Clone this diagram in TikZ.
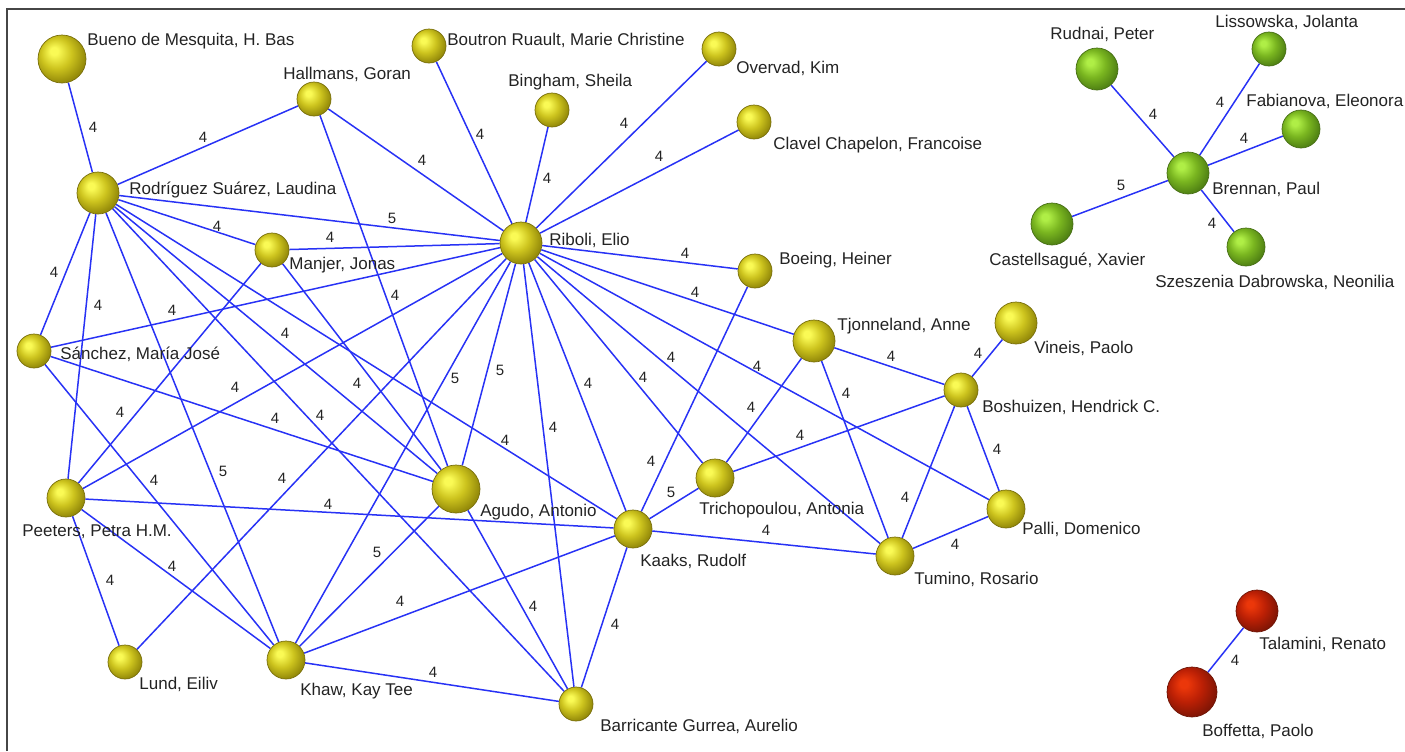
\documentclass[tikz,border=0pt]{standalone}
\usepackage{fontspec}
\setmainfont{Liberation Sans}
\usetikzlibrary{backgrounds}
\definecolor{yhi}{RGB}{250,250,85}
\definecolor{ymid}{RGB}{205,196,30}
\definecolor{ydk}{RGB}{150,140,10}
\definecolor{ydk2}{RGB}{105,96,0}
\definecolor{yout}{RGB}{120,110,10}
\definecolor{ghi}{RGB}{175,238,70}
\definecolor{gmid}{RGB}{122,182,32}
\definecolor{gdk}{RGB}{82,132,20}
\definecolor{gdk2}{RGB}{55,95,10}
\definecolor{gout}{RGB}{70,110,20}
\definecolor{rhi}{RGB}{235,55,10}
\definecolor{rmid}{RGB}{188,32,5}
\definecolor{rdk}{RGB}{132,22,5}
\definecolor{rdk2}{RGB}{90,12,0}
\definecolor{rout}{RGB}{110,20,5}
\definecolor{eblue}{RGB}{40,50,245}
\definecolor{txt}{RGB}{35,35,35}
\definecolor{framec}{RGB}{70,70,70}
\pgfdeclareradialshading{ysph}{\pgfpoint{-9bp}{9bp}}{color(0bp)=(yhi); color(4bp)=(yhi); color(16bp)=(ymid); color(28bp)=(ydk); color(50bp)=(ydk2)}
\pgfdeclareradialshading{gsph}{\pgfpoint{-9bp}{9bp}}{color(0bp)=(ghi); color(4bp)=(ghi); color(16bp)=(gmid); color(28bp)=(gdk); color(50bp)=(gdk2)}
\pgfdeclareradialshading{rsph}{\pgfpoint{-9bp}{9bp}}{color(0bp)=(rhi); color(4bp)=(rhi); color(16bp)=(rmid); color(28bp)=(rdk); color(50bp)=(rdk2)}
\begin{document}
\begin{tikzpicture}[x=0.5pt,y=-0.5pt,
  sph/.style={circle, inner sep=0pt, line width=0.35pt},
  ys/.style={sph, draw=yout, shading=ysph, minimum size=#1pt},
  gs/.style={sph, draw=gout, shading=gsph, minimum size=#1pt},
  rs/.style={sph, draw=rout, shading=rsph, minimum size=#1pt},
  lab/.style={anchor=base west, yshift=-3pt, inner sep=0pt, text=txt, font=\fontsize{8.5}{10}\selectfont},
  el/.style={inner sep=0pt, text=txt, font=\fontsize{7.5}{9}\selectfont},
  edge/.style={draw=eblue, line width=0.75pt},
  frame/.style={draw=framec, line width=1pt}]
\useasboundingbox (0,0) rectangle (1405,751);
\draw[frame] (7,751) |- (1405,9);
% spheres
\node[ys=24] (bue) at (62,59) {};
\node[ys=17] (bou) at (429,46) {};
\node[ys=17] (ove) at (719,49) {};
\node[ys=17] (hal) at (314,99) {};
\node[ys=17] (bin) at (552,110) {};
\node[ys=17] (cla) at (754,122) {};
\node[ys=21] (rod) at (98,193) {};
\node[ys=17] (man) at (272,250) {};
\node[ys=21] (rib) at (521,243) {};
\node[ys=17] (boe) at (755,271) {};
\node[ys=17] (san) at (34,351) {};
\node[ys=21] (tjo) at (814,341) {};
\node[ys=21] (vin) at (1016,323) {};
\node[ys=17] (bos) at (961,390) {};
\node[ys=19] (pee) at (66,498) {};
\node[ys=24] (agu) at (456,489) {};
\node[ys=19] (tri) at (715,478) {};
\node[ys=19] (kaa) at (633,529) {};
\node[ys=19] (pal) at (1006,509) {};
\node[ys=19] (tum) at (895,556) {};
\node[ys=17] (lun) at (125,662) {};
\node[ys=19] (kha) at (286,660) {};
\node[ys=17] (bar) at (576,704) {};
\node[gs=21] (rud) at (1097,69) {};
\node[gs=17] (lis) at (1269,49) {};
\node[gs=19] (fab) at (1301,129) {};
\node[gs=21] (bre) at (1188,173) {};
\node[gs=21] (cas) at (1052,224) {};
\node[gs=19] (sze) at (1246,247) {};
\node[rs=21] (tal) at (1257,611) {};
\node[rs=25] (bof) at (1192,692) {};
% edges
\begin{scope}[on background layer]
\draw[edge] (rod) -- (bue);
\draw[edge] (rod) -- (hal);
\draw[edge] (hal) -- (rib);
\draw[edge] (rod) -- (rib);
\draw[edge] (rod) -- (man);
\draw[edge] (man) -- (rib);
\draw[edge] (bou) -- (rib);
\draw[edge] (bin) -- (rib);
\draw[edge] (ove) -- (rib);
\draw[edge] (cla) -- (rib);
\draw[edge] (boe) -- (rib);
\draw[edge] (tjo) -- (rib);
\draw[edge] (rod) -- (san);
\draw[edge] (rod) -- (pee);
\draw[edge] (san) -- (rib);
\draw[edge] (pee) -- (rib);
\draw[edge] (man) -- (pee);
\draw[edge] (rod) -- (kha);
\draw[edge] (san) -- (kha);
\draw[edge] (lun) -- (rib);
\draw[edge] (pee) -- (kaa);
\draw[edge] (hal) -- (agu);
\draw[edge] (rib) -- (kha);
\draw[edge] (rod) -- (agu);
\draw[edge] (rod) -- (bar);
\draw[edge] (man) -- (agu);
\draw[edge] (san) -- (agu);
\draw[edge] (rib) -- (agu);
\draw[edge] (rib) -- (bar);
\draw[edge] (rib) -- (kaa);
\draw[edge] (rib) -- (tri);
\draw[edge] (rib) -- (tum);
\draw[edge] (rib) -- (pal);
\draw[edge] (rod) -- (kaa);
\draw[edge] (boe) -- (kaa);
\draw[edge] (kaa) -- (tri);
\draw[edge] (tjo) -- (tri);
\draw[edge] (tri) -- (bos);
\draw[edge] (tjo) -- (bos);
\draw[edge] (tjo) -- (tum);
\draw[edge] (vin) -- (bos);
\draw[edge] (bos) -- (pal);
\draw[edge] (bos) -- (tum);
\draw[edge] (kaa) -- (tum);
\draw[edge] (tum) -- (pal);
\draw[edge] (pee) -- (lun);
\draw[edge] (pee) -- (kha);
\draw[edge] (agu) -- (kha);
\draw[edge] (kha) -- (kaa);
\draw[edge] (kha) -- (bar);
\draw[edge] (agu) -- (bar);
\draw[edge] (kaa) -- (bar);
\draw[edge] (rud) -- (bre);
\draw[edge] (lis) -- (bre);
\draw[edge] (fab) -- (bre);
\draw[edge] (cas) -- (bre);
\draw[edge] (sze) -- (bre);
\draw[edge] (tal) -- (bof);
\end{scope}
% name labels
\node[lab] (bue-l) at (87,39) {Bueno de Mesquita, H. Bas};
\node[lab] (bou-l) at (447,39) {Boutron Ruault, Marie Christine};
\node[lab] (ove-l) at (736,67) {Overvad, Kim};
\node[lab] (hal-l) at (283,73) {Hallmans, Goran};
\node[lab] (bin-l) at (508,80) {Bingham, Sheila};
\node[lab] (cla-l) at (773,143) {Clavel Chapelon, Francoise};
\node[lab] (rod-l) at (129,188) {Rodríguez Suárez, Laudina};
\node[lab] (man-l) at (289,263) {Manjer, Jonas};
\node[lab] (rib-l) at (549,239) {Riboli, Elio};
\node[lab] (boe-l) at (779,258) {Boeing, Heiner};
\node[lab] (san-l) at (60,353) {Sánchez, María José};
\node[lab] (tjo-l) at (837,324) {Tjonneland, Anne};
\node[lab] (vin-l) at (1034,347) {Vineis, Paolo};
\node[lab] (bos-l) at (982,406) {Boshuizen, Hendrick C.};
\node[lab] (pee-l) at (22,530) {Peeters, Petra H.M.};
\node[lab] (agu-l) at (480,510) {Agudo, Antonio};
\node[lab] (tri-l) at (699,508) {Trichopoulou, Antonia};
\node[lab] (kaa-l) at (640,560) {Kaaks, Rudolf};
\node[lab] (pal-l) at (1022,528) {Palli, Domenico};
\node[lab] (tum-l) at (914,578) {Tumino, Rosario};
\node[lab] (lun-l) at (139,683) {Lund, Eiliv};
\node[lab] (kha-l) at (300,689) {Khaw, Kay Tee};
\node[lab] (bar-l) at (600,725) {Barricante Gurrea, Aurelio};
\node[lab] (rud-l) at (1050,33) {Rudnai, Peter};
\node[lab] (lis-l) at (1215,21) {Lissowska, Jolanta};
\node[lab] (fab-l) at (1246,100) {Fabianova, Eleonora};
\node[lab] (bre-l) at (1212,188) {Brennan, Paul};
\node[lab] (cas-l) at (989,259) {Castellsagué, Xavier};
\node[lab] (sze-l) at (1155,281) {Szeszenia Dabrowska, Neonilia};
\node[lab] (tal-l) at (1259,643) {Talamini, Renato};
\node[lab] (bof-l) at (1202,730) {Boffetta, Paolo};
% edge weights
\node[el] (w1) at (93,127) {4};
\node[el] (w2) at (203,137) {4};
\node[el] (w3) at (422,160) {4};
\node[el] (w4) at (392,218) {5};
\node[el] (w5) at (217,226) {4};
\node[el] (w6) at (330,237) {4};
\node[el] (w7) at (480,134) {4};
\node[el] (w8) at (547,178) {4};
\node[el] (w9) at (624,123) {4};
\node[el] (w10) at (659,156) {4};
\node[el] (w11) at (685,253) {4};
\node[el] (w12) at (695,292) {4};
\node[el] (w13) at (54,272) {4};
\node[el] (w14) at (98,305) {4};
\node[el] (w15) at (172,310) {4};
\node[el] (w16) at (235,387) {4};
\node[el] (w17) at (120,412) {4};
\node[el] (w18) at (223,471) {5};
\node[el] (w19) at (154,480) {4};
\node[el] (w20) at (282,478) {4};
\node[el] (w21) at (328,504) {4};
\node[el] (w22) at (395,295) {4};
\node[el] (w23) at (455,378) {5};
\node[el] (w24) at (285,333) {4};
\node[el] (w25) at (320,415) {4};
\node[el] (w26) at (357,383) {4};
\node[el] (w27) at (275,418) {4};
\node[el] (w28) at (500,370) {5};
\node[el] (w29) at (553,427) {4};
\node[el] (w30) at (588,383) {4};
\node[el] (w31) at (643,377) {4};
\node[el] (w32) at (671,357) {4};
\node[el] (w33) at (757,366) {4};
\node[el] (w34) at (505,440) {4};
\node[el] (w35) at (651,461) {4};
\node[el] (w36) at (671,492) {5};
\node[el] (w37) at (751,407) {4};
\node[el] (w38) at (800,435) {4};
\node[el] (w39) at (891,356) {4};
\node[el] (w40) at (846,393) {4};
\node[el] (w41) at (978,353) {4};
\node[el] (w42) at (997,449) {4};
\node[el] (w43) at (905,497) {4};
\node[el] (w44) at (766,530) {4};
\node[el] (w45) at (955,544) {4};
\node[el] (w46) at (110,580) {4};
\node[el] (w47) at (172,566) {4};
\node[el] (w48) at (377,552) {5};
\node[el] (w49) at (400,601) {4};
\node[el] (w50) at (433,672) {4};
\node[el] (w51) at (533,606) {4};
\node[el] (w52) at (615,624) {4};
\node[el] (w53) at (1153,114) {4};
\node[el] (w54) at (1220,102) {4};
\node[el] (w55) at (1244,138) {4};
\node[el] (w56) at (1121,185) {5};
\node[el] (w57) at (1212,223) {4};
\node[el] (w58) at (1235,660) {4};
\end{tikzpicture}
\end{document}
